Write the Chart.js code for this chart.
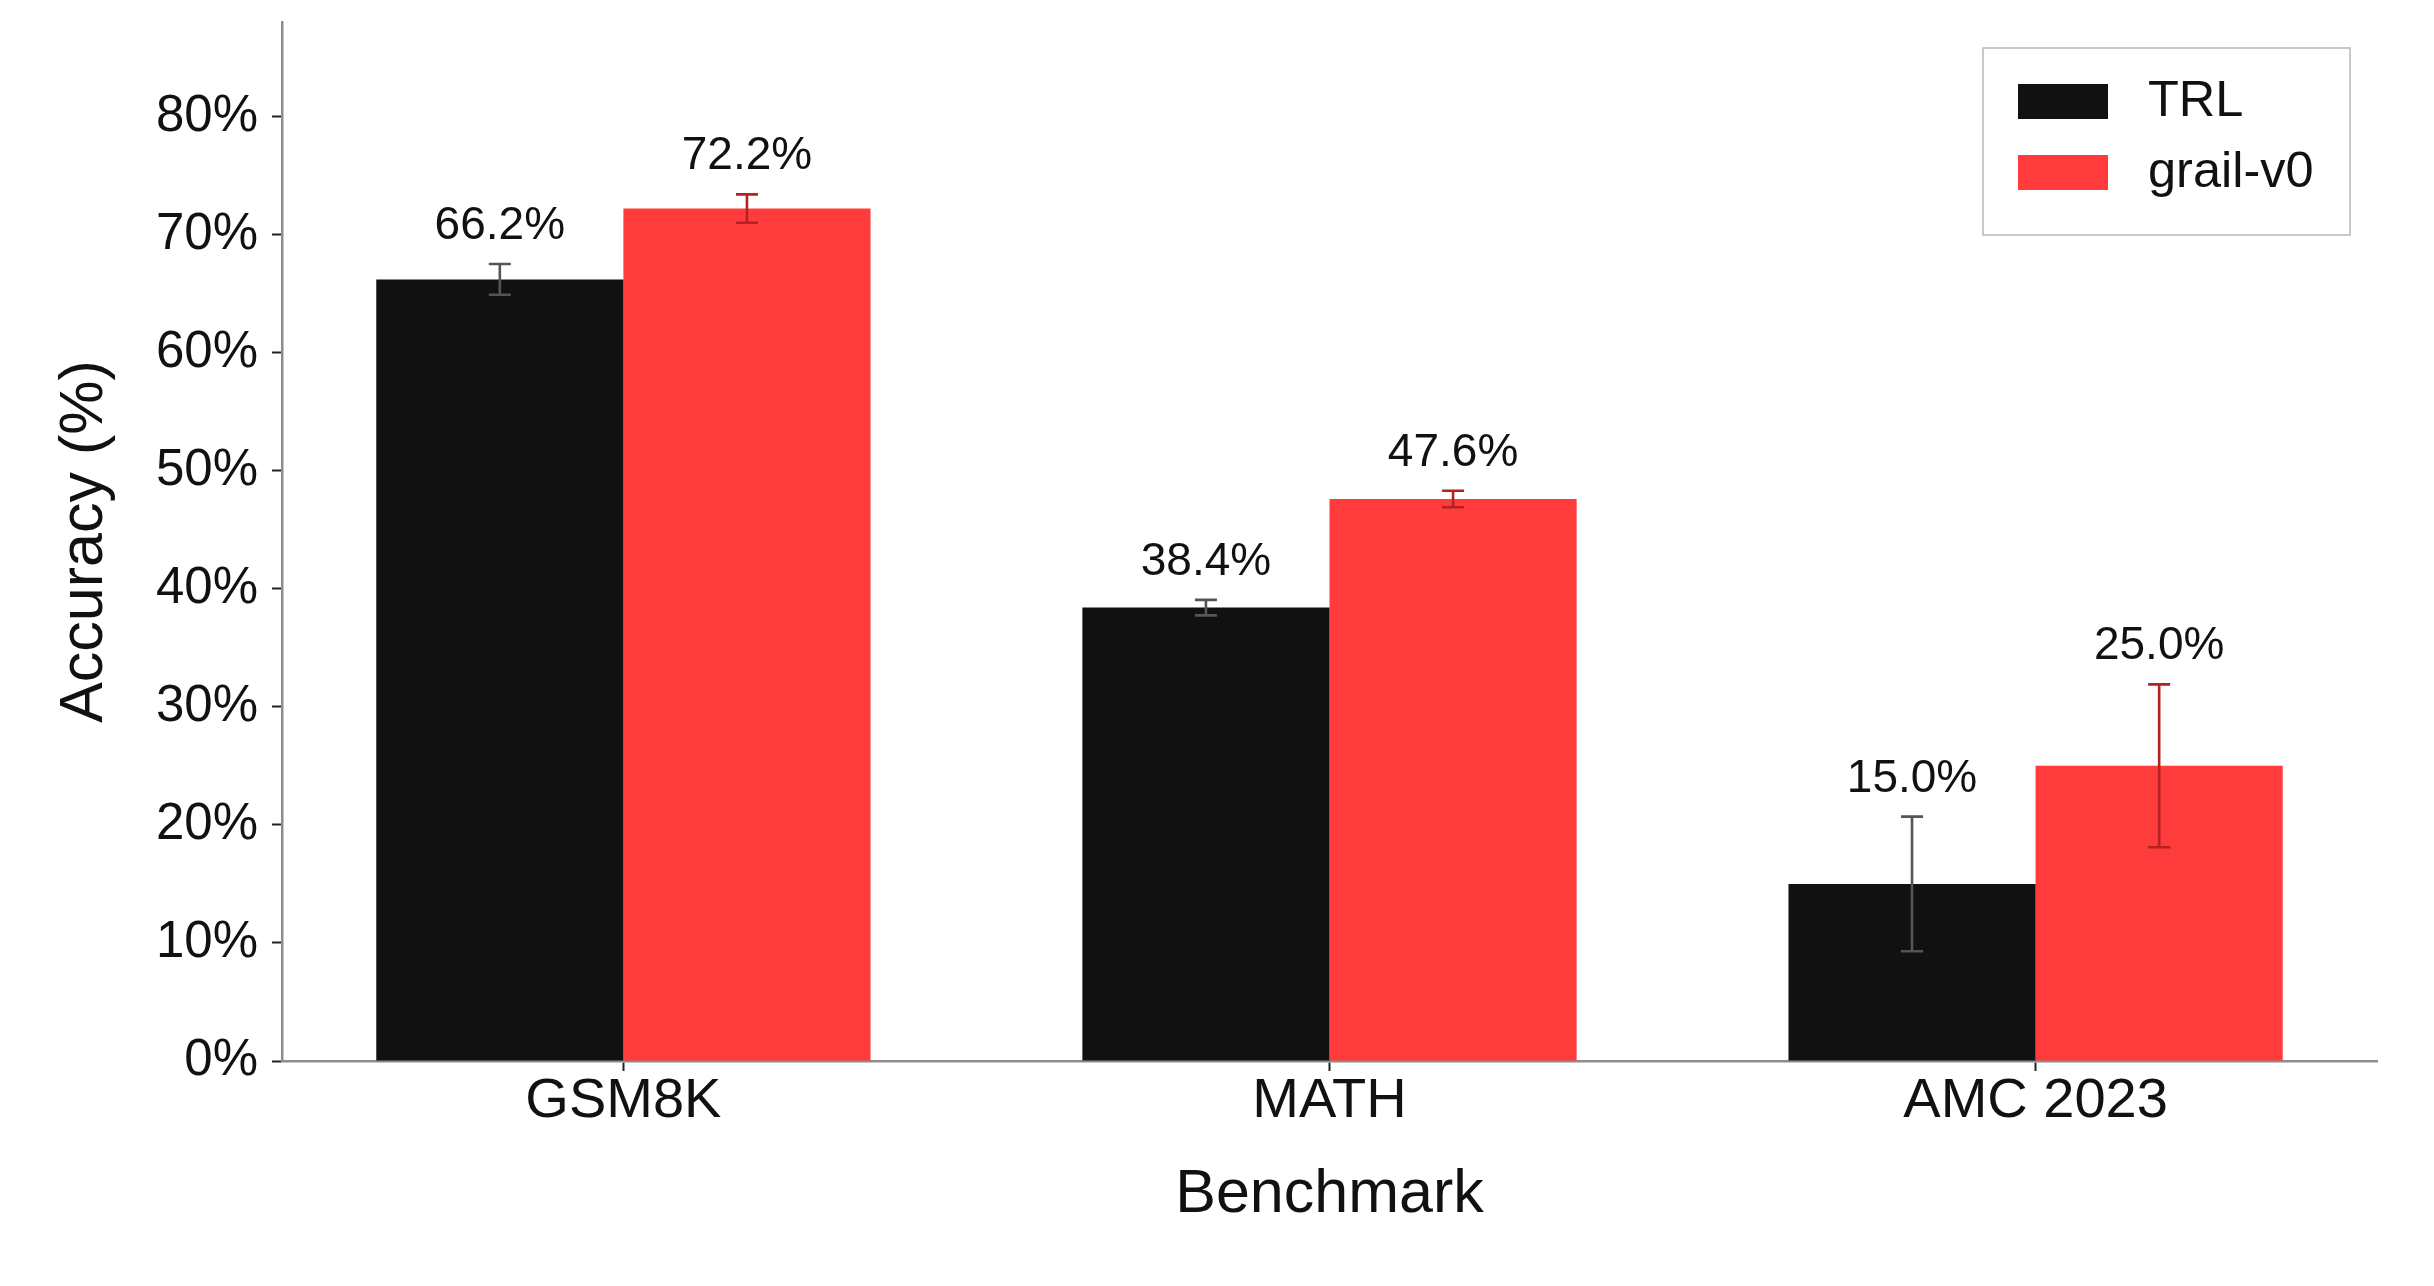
<!DOCTYPE html>
<html>
<head>
<meta charset="utf-8">
<script src="https://cdn.jsdelivr.net/npm/chart.js@4.4.1/dist/chart.umd.min.js"></script>
<style>
  html, body { margin: 0; padding: 0; background: #ffffff; }
  #wrap { width: 2434px; height: 1286px; }
</style>
</head>
<body>
<div id="wrap"><canvas id="c" width="2434" height="1286"></canvas></div>
<script>
const categories = ['GSM8K', 'MATH', 'AMC 2023'];
const seriesNames = ['TRL', 'grail-v0'];
const trlValues = [66.2, 38.4, 15.0];
const grailValues = [72.2, 47.6, 25.0];
const trlErrors = [1.3, 0.66, 5.7];
const grailErrors = [1.2, 0.7, 6.9];
const yTickValues = [0, 10, 20, 30, 40, 50, 60, 70, 80];

const FONT = "'Liberation Sans', Arial, Helvetica, sans-serif";
const TEXT = '#111111';

const errorBarPlugin = {
  id: 'errorBars',
  afterDatasetsDraw(chart) {
    const ctx = chart.ctx;
    const y = chart.scales.y;
    chart.data.datasets.forEach((ds, di) => {
      const meta = chart.getDatasetMeta(di);
      meta.data.forEach((bar, i) => {
        const v = ds.data[i].y;
        const e = ds.errors[i];
        const top = y.getPixelForValue(v + e);
        const bot = y.getPixelForValue(v - e);
        const cx = bar.x;
        ctx.save();
        ctx.strokeStyle = ds.errorColor;
        ctx.lineWidth = 2.6;
        ctx.beginPath();
        ctx.moveTo(cx, top); ctx.lineTo(cx, bot);
        ctx.moveTo(cx - 11, top); ctx.lineTo(cx + 11, top);
        ctx.moveTo(cx - 11, bot); ctx.lineTo(cx + 11, bot);
        ctx.stroke();
        ctx.fillStyle = TEXT;
        ctx.font = '46px ' + FONT;
        ctx.textAlign = 'center';
        ctx.textBaseline = 'alphabetic';
        ctx.fillText(v.toFixed(1) + '%', cx, top - 25);
        ctx.restore();
      });
    });
  }
};

const boxLegendPlugin = {
  id: 'boxLegend',
  afterDraw(chart) {
    const ctx = chart.ctx;
    const a = chart.chartArea;
    const bx = a.right - 394, by = a.top + 26, bw = 367, bh = 187;
    ctx.save();
    ctx.fillStyle = '#ffffff';
    ctx.fillRect(bx, by, bw, bh);
    ctx.strokeStyle = '#b8b8b8';
    ctx.lineWidth = 1.5;
    ctx.strokeRect(bx, by, bw, bh);
    chart.data.datasets.forEach((ds, i) => {
      const rowY = by + 53.5 + i * 71;
      ctx.fillStyle = ds.backgroundColor;
      ctx.fillRect(bx + 35, rowY - 17.5, 90, 35);
      ctx.fillStyle = TEXT;
      ctx.font = '50.5px ' + FONT;
      ctx.textAlign = 'left';
      ctx.textBaseline = 'middle';
      ctx.fillText(ds.label, bx + 165, rowY + 1);
    });
    ctx.restore();
  }
};

const toPoints = arr => arr.map((v, i) => ({ x: i, y: v }));

new Chart(document.getElementById('c'), {
  type: 'bar',
  data: {
    datasets: [
      { label: seriesNames[0], data: toPoints(trlValues), errors: trlErrors,
        backgroundColor: '#111111', errorColor: '#555555' },
      { label: seriesNames[1], data: toPoints(grailValues), errors: grailErrors,
        backgroundColor: '#ff3b3b', errorColor: '#b22222' }
    ]
  },
  options: {
    responsive: false,
    animation: false,
    devicePixelRatio: 1,
    layout: { padding: { left: 0, top: 22, right: 57, bottom: 0 } },
    datasets: { bar: { categoryPercentage: 0.7, barPercentage: 1.0, borderWidth: 0 } },
    plugins: { legend: { display: false }, tooltip: { enabled: false } },
    scales: {
      x: {
        type: 'linear',
        offset: false,
        min: -0.4835,
        max: 2.4835,
        afterBuildTicks(scale) { scale.ticks = categories.map((c, i) => ({ value: i })); },
        afterFit(scale) { scale.height = 225; scale.paddingLeft = 0; scale.paddingRight = 0; },
        ticks: {
          callback: v => categories[v],
          color: TEXT,
          font: { family: FONT, size: 56 },
          padding: -3,
          maxRotation: 0,
          autoSkip: false
        },
        grid: { offset: false, drawOnChartArea: false, drawTicks: true, tickLength: 10, tickColor: '#222222', tickWidth: 2 },
        border: { display: true, color: '#8c8c8c', width: 2.5 },
        title: { display: true, text: 'Benchmark', color: TEXT, font: { family: FONT, size: 61 }, padding: { top: 0, bottom: 54 } }
      },
      y: {
        min: 0,
        max: 88,
        afterBuildTicks(scale) { scale.ticks = yTickValues.map(v => ({ value: v })); },
        afterFit(scale) { scale.width = 282; scale.paddingTop = 0; scale.paddingBottom = 0; },
        ticks: {
          callback: v => v + '%',
          color: TEXT,
          font: { family: FONT, size: 51 },
          padding: 14
        },
        grid: { drawOnChartArea: false, drawTicks: true, tickLength: 10, tickColor: '#222222', tickWidth: 2 },
        border: { display: true, color: '#8c8c8c', width: 2.5 },
        title: { display: true, text: 'Accuracy (%)', color: TEXT, font: { family: FONT, size: 61 }, padding: { top: 49, bottom: 0 } }
      }
    }
  },
  plugins: [errorBarPlugin, boxLegendPlugin]
});
</script>
</body>
</html>
